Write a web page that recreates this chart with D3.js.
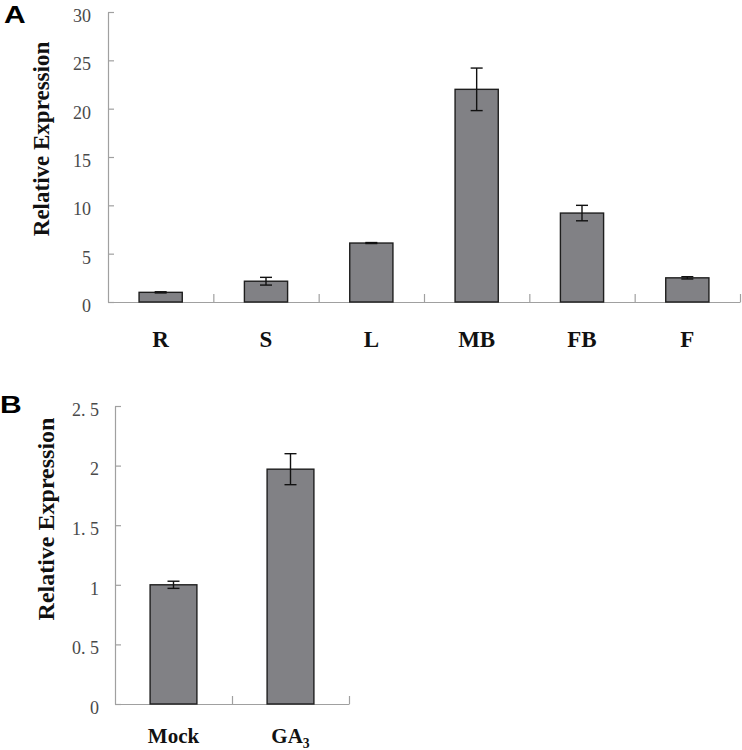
<!DOCTYPE html>
<html>
<head>
<meta charset="utf-8">
<script src="https://cdn.jsdelivr.net/npm/d3@7"></script>
<style>
  html, body { margin: 0; padding: 0; background: #fff; }
  svg { display: block; }
</style>
</head>
<body>
<svg id="chart" width="742" height="750"></svg>
<script>
// ---- Data ----
const tissueCategories = ["R", "S", "L", "MB", "FB", "F"];
const tissueValues = [1.0, 2.15, 6.1, 22.0, 9.2, 2.5];
const tissueErrors = [0.06, 0.4, 0.05, 2.2, 0.8, 0.12];
const tissueTicks = [0, 5, 10, 15, 20, 25, 30];

const treatCategories = ["Mock", "GA3"];
const treatValues = [1.0, 1.97];
const treatErrors = [0.03, 0.13];
const treatTicks = [0, 0.5, 1, 1.5, 2, 2.5];

const svg = d3.select("#chart");
const axisColor = "#a0a0a0";
const barFill = "#818185";
const barStroke = "#1e1e1e";
const serif = "'Liberation Serif', 'Times New Roman', serif";

function drawPanel(cfg) {
  const g = svg.append("g");
  const x = d3.scaleBand().domain(cfg.cats).range([cfg.x0, cfg.x1]).padding(0);
  const y = d3.scaleLinear().domain([0, cfg.ymax]).range([cfg.y0, cfg.y1]);

  // y axis
  const yAxis = d3.axisLeft(y)
    .tickValues(cfg.ticks)
    .tickSize(-6)
    .tickSizeOuter(0)
    .tickPadding(cfg.tickPad)
    .tickFormat(cfg.fmt);
  const ya = g.append("g").attr("transform", `translate(${cfg.x0},0)`).call(yAxis)
    .attr("font-family", serif).attr("font-size", cfg.tickFont);
  ya.select(".domain").attr("stroke", axisColor).attr("stroke-width", 1.2);
  ya.selectAll(".tick line").attr("stroke", axisColor).attr("stroke-width", 1.2);
  ya.selectAll(".tick text")
    .attr("fill", "#4a4a4a")
    .attr("dy", "0.52em")
    .attr("font-family", serif)
    .attr("font-size", cfg.tickFont);

  // x axis line with boundary ticks
  const bounds = cfg.cats.map(c => x(c)).concat([cfg.x1]).slice(1);
  const xl = d3.scaleLinear().domain([cfg.x0, cfg.x1]).range([cfg.x0, cfg.x1]);
  const xAxis = d3.axisBottom(xl).tickValues(bounds).tickSize(-8).tickSizeOuter(0).tickFormat("");
  const xa = g.append("g").attr("transform", `translate(0,${cfg.y0})`).call(xAxis);
  xa.select(".domain").attr("stroke", axisColor).attr("stroke-width", 1.2);
  xa.selectAll(".tick line").attr("stroke", axisColor).attr("stroke-width", 1.2);

  const bw = x.bandwidth() * cfg.barFrac;
  const data = cfg.cats.map((c, i) => ({ c, v: cfg.vals[i], e: cfg.errs[i] }));

  g.selectAll("rect.bar").data(data).enter().append("rect")
    .attr("class", "bar")
    .attr("x", d => x(d.c) + (x.bandwidth() - bw) / 2)
    .attr("y", d => y(d.v))
    .attr("width", bw)
    .attr("height", d => y(0) - y(d.v))
    .attr("fill", barFill)
    .attr("stroke", barStroke)
    .attr("stroke-width", 1.4);

  const cap = 6;
  const eg = g.selectAll("g.err").data(data).enter().append("g").attr("class", "err")
    .attr("stroke", "#111").attr("stroke-width", 1.4);
  eg.append("line")
    .attr("x1", d => x(d.c) + x.bandwidth() / 2).attr("x2", d => x(d.c) + x.bandwidth() / 2)
    .attr("y1", d => y(d.v + d.e)).attr("y2", d => y(d.v - d.e));
  eg.append("line")
    .attr("x1", d => x(d.c) + x.bandwidth() / 2 - cap).attr("x2", d => x(d.c) + x.bandwidth() / 2 + cap)
    .attr("y1", d => y(d.v + d.e)).attr("y2", d => y(d.v + d.e));
  eg.append("line")
    .attr("x1", d => x(d.c) + x.bandwidth() / 2 - cap).attr("x2", d => x(d.c) + x.bandwidth() / 2 + cap)
    .attr("y1", d => y(d.v - d.e)).attr("y2", d => y(d.v - d.e));

  // category labels
  const lab = g.selectAll("text.cat").data(data).enter().append("text")
    .attr("class", "cat")
    .attr("x", d => x(d.c) + x.bandwidth() / 2)
    .attr("y", cfg.labY)
    .attr("text-anchor", "middle")
    .attr("font-family", serif)
    .attr("font-weight", "bold")
    .attr("font-size", cfg.catFont)
    .attr("fill", "#111");
  lab.each(function(d) {
    const t = d3.select(this);
    const m = d.c.match(/^(GA)(3)$/);
    if (m) {
      t.append("tspan").text(m[1]);
      t.append("tspan").text(m[2]).attr("dy", 5).attr("font-size", cfg.catFont * 0.65);
    } else {
      t.text(d.c);
    }
  });

  // y axis title
  g.append("text")
    .attr("transform", `translate(${cfg.titleX},${(cfg.y0 + cfg.y1) / 2 + cfg.titleDy}) rotate(-90)`)
    .attr("text-anchor", "middle")
    .attr("font-family", serif)
    .attr("font-weight", "bold")
    .attr("font-size", cfg.titleFont)
    .attr("fill", "#111")
    .text("Relative Expression");

  // panel letter
  g.append("text")
    .attr("transform", `translate(${cfg.letterX},${cfg.letterY}) scale(1.25,1)`)
    .attr("font-family", "'Liberation Sans', Arial, sans-serif")
    .attr("font-weight", "bold")
    .attr("font-size", 24)
    .attr("fill", "#000")
    .text(cfg.letter);
}

drawPanel({
  cats: tissueCategories, vals: tissueValues, errs: tissueErrors, ticks: tissueTicks,
  ymax: 30, x0: 108, x1: 740, y0: 302, y1: 12, barFrac: 0.41,
  fmt: d => String(d), tickPad: 17, tickFont: 18,
  labY: 347, catFont: 23, titleX: 49, titleDy: -18, titleFont: 23,
  letter: "A", letterX: 4, letterY: 23
});

drawPanel({
  cats: treatCategories, vals: treatValues, errs: treatErrors, ticks: treatTicks,
  ymax: 2.5, x0: 115, x1: 349, y0: 704, y1: 406, barFrac: 0.4,
  fmt: d => String(d).replace(".", ". "), tickPad: 16, tickFont: 18,
  labY: 743, catFont: 21, titleX: 54, titleDy: -36, titleFont: 24,
  letter: "B", letterX: 0, letterY: 413
});
</script>
</body>
</html>
